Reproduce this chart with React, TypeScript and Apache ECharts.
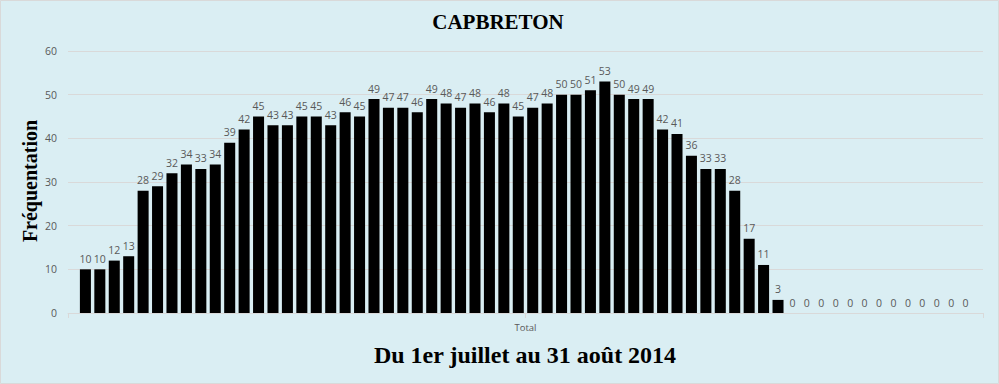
import React, { useEffect, useRef } from "react";
import * as echarts from "echarts";

const titleText = "CAPBRETON";
const yAxisTitle = "Fréquentation";
const xAxisTitle = "Du 1er juillet au 31 août 2014";
const category = ["Total"];
const yTicks = { min: 0, max: 60, interval: 10 };
const visits = [
  10, 10, 12, 13, 28, 29, 32, 34, 33, 34,
  39, 42, 45, 43, 43, 45, 45, 43, 46, 45,
  49, 47, 47, 46, 49, 48, 47, 48, 46, 48,
  45, 47, 48, 50, 50, 51, 53, 50, 49, 49,
  42, 41, 36, 33, 33, 28, 17, 11, 3, 0,
  0, 0, 0, 0, 0, 0, 0, 0, 0, 0,
  0, 0,
];

export default function App() {
  const ref = useRef<HTMLDivElement>(null);
  useEffect(() => {
    document.body.style.margin = "0";
    if (!ref.current) return;
    const chart = echarts.init(ref.current, null, { renderer: "svg" });
    const labelColor = "#595959";
    const series = visits.map((v, i) => ({
      type: "bar",
      name: "day" + (i + 1),
      xAxisIndex: 0,
      yAxisIndex: 0,
      data: [v],
      itemStyle: { color: "#000000" },
      barGap: "31%",
      barCategoryGap: "2.6%",
      label: {
        show: true,
        position: "top",
        distance: 5,
        color: labelColor,
        fontSize: 10.5,
        fontFamily: "Open Sans",
      },
    }));
    chart.setOption({
      animation: false,
      backgroundColor: "#DAEEF3",
      grid: { left: 68, right: 16, top: 51, bottom: 71, containLabel: false },
      xAxis: [
        {
          type: "category",
          data: category,
          position: "bottom",
          axisLine: { show: true, lineStyle: { color: "#d9d9d9", width: 1 } },
          axisTick: { show: true, length: 5, lineStyle: { color: "#d9d9d9" } },
          axisLabel: { show: true, color: labelColor, fontSize: 9.5, fontFamily: "Open Sans", margin: 9 },
          splitLine: { show: false },
        },
        {
          type: "category",
          data: category,
          position: "bottom",
          axisLine: { show: false },
          axisTick: { show: true, alignWithLabel: true, length: 5, lineStyle: { color: "#d9d9d9" } },
          axisLabel: { show: false },
          splitLine: { show: false },
        },
      ],
      yAxis: {
        type: "value",
        min: yTicks.min,
        max: yTicks.max,
        interval: yTicks.interval,
        axisLine: { show: false },
        axisTick: { show: false },
        axisLabel: { color: labelColor, fontSize: 10.5, fontFamily: "Open Sans", margin: 11 },
        splitLine: { show: true, lineStyle: { color: "#d9d9d9", width: 1 } },
      },
      graphic: [
        {
          type: "rect",
          shape: { x: 0.5, y: 0.5, width: 998, height: 383 },
          style: { fill: "none", stroke: "#d9d9d9", lineWidth: 1 },
          silent: true,
        },
        {
          type: "text",
          x: 498,
          y: 22,
          style: {
            text: titleText,
            fill: "#000",
            font: "bold 21px 'Liberation Serif', 'Times New Roman', serif",
            align: "center",
            verticalAlign: "middle",
          },
        },
        {
          type: "text",
          x: 30,
          y: 181,
          rotation: Math.PI / 2,
          style: {
            text: yAxisTitle,
            fill: "#000",
            font: "bold 20px 'Liberation Serif', 'Times New Roman', serif",
            align: "center",
            verticalAlign: "middle",
          },
        },
        {
          type: "text",
          x: 525,
          y: 355,
          style: {
            text: xAxisTitle,
            fill: "#000",
            font: "bold 24px 'Liberation Serif', 'Times New Roman', serif",
            align: "center",
            verticalAlign: "middle",
          },
        },
      ],
      series,
    });
    return () => chart.dispose();
  }, []);
  return <div ref={ref} style={{ width: 999, height: 384 }} />;
}
